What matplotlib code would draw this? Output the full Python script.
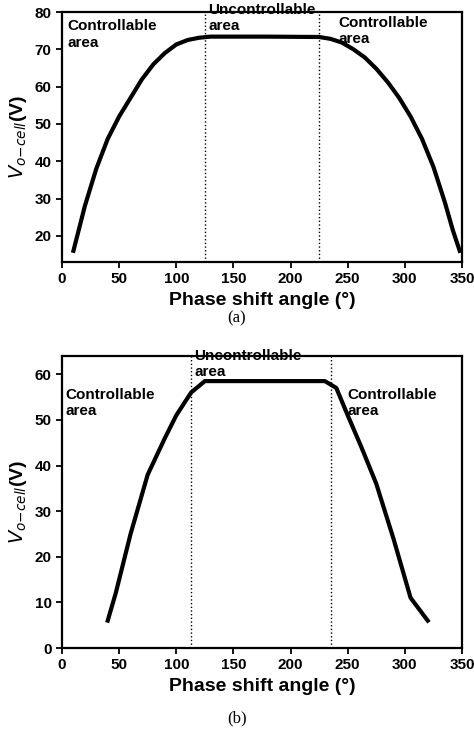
import matplotlib.pyplot as plt

# (a)
xa = [10, 15, 20, 30, 40, 50, 60, 70, 80, 90, 100, 110, 120, 130, 180, 225, 235, 245, 255, 265, 275, 285, 295, 305, 315, 325, 335, 342, 348]
ya = [16, 22, 28, 38, 46, 52, 57, 62, 66, 69, 71.3, 72.5, 73.1, 73.4, 73.4, 73.3, 72.8, 71.8, 70.0, 67.8, 64.8, 61.2, 57.0, 52.0, 46.0, 38.5, 29.0, 21.5, 16]
vlines_a = [125, 225]

# (b)
xb = [40, 47, 60, 75, 90, 100, 113, 125, 230, 240, 250, 262, 275, 290, 305, 320]
yb = [6, 12, 25, 38, 46, 51, 56, 58.5, 58.5, 57, 51, 44, 36, 24, 11, 6]
vlines_b = [113, 235]

ticks_x = [0, 50, 100, 150, 200, 250, 300, 350]

plt.rcParams['font.family'] = ['Liberation Sans', 'DejaVu Sans']
fig = plt.figure(figsize=(4.74, 7.33), dpi=100)
W, H = 474, 733
ax1 = fig.add_axes([62 / W, 1 - 262 / H, 400 / W, 250 / H])
ax2 = fig.add_axes([62 / W, 1 - 648 / H, 400 / W, 292 / H])

def style(ax, yt, ylim):
    ax.set_xlim(0, 350)
    ax.set_ylim(*ylim)
    ax.set_xticks(ticks_x)
    ax.set_yticks(yt)
    for s in ax.spines.values():
        s.set_linewidth(1.6)
    ax.tick_params(labelsize=11, width=1.3, length=4)
    for lab in ax.get_xticklabels() + ax.get_yticklabels():
        lab.set_fontweight('bold')
    ax.set_xlabel('Phase shift angle (°)', fontsize=14, fontweight='bold')
    ax.set_ylabel('$V_{o\\mathrm{-}cell}$(V)', fontsize=14, fontweight='bold')

ax1.plot(xa, ya, color='black', lw=3)
for v in vlines_a:
    ax1.axvline(v, color='black', lw=1, ls=':')
style(ax1, [20, 30, 40, 50, 60, 70, 80], (13, 80))
ax1.text(5, 78, 'Controllable\narea', fontsize=11, fontweight='bold', va='top')
ax1.text(128, 82.5, 'Uncontrollable\narea', fontsize=11, fontweight='bold', va='top')
ax1.text(242, 79, 'Controllable\narea', fontsize=11, fontweight='bold', va='top')
fig.text(0.5, 1 - 322 / H, '(a)', ha='center', fontsize=12, family='Liberation Serif')

ax2.plot(xb, yb, color='black', lw=3)
for v in vlines_b:
    ax2.axvline(v, color='black', lw=1, ls=':')
style(ax2, [0, 10, 20, 30, 40, 50, 60], (0, 64))
ax2.text(3, 57, 'Controllable\narea', fontsize=11, fontweight='bold', va='top')
ax2.text(116, 65.5, 'Uncontrollable\narea', fontsize=11, fontweight='bold', va='top')
ax2.text(250, 57, 'Controllable\narea', fontsize=11, fontweight='bold', va='top')
fig.text(0.5, 1 - 722 / H, '(b)', ha='center', fontsize=12, family='Liberation Serif')

fig.savefig('out.png', dpi=100)
